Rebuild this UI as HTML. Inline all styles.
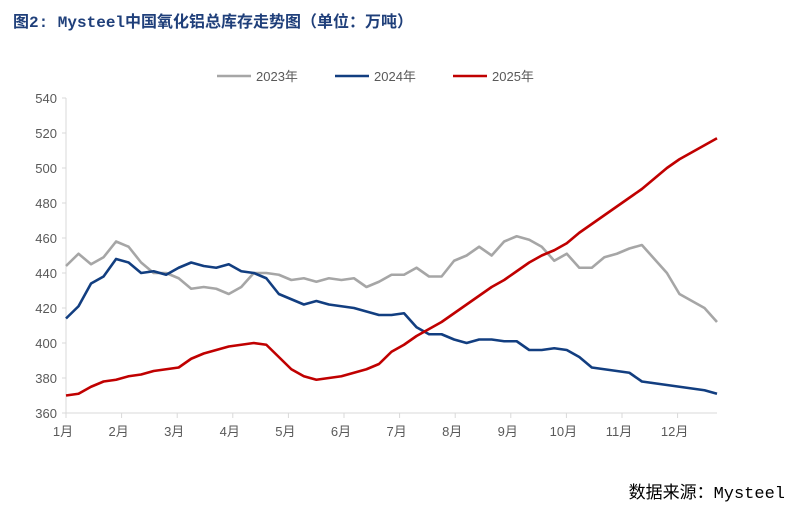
<!DOCTYPE html>
<html><head><meta charset="utf-8"><style>
body{margin:0;background:#fff;width:793px;height:511px;overflow:hidden;font-family:"Liberation Sans","Noto Sans CJK SC",sans-serif}
#title{position:absolute;left:13px;top:8px;font-size:16px;font-weight:bold;color:#1f3f7a;font-family:"Liberation Mono","Noto Sans CJK SC",monospace}
#src{position:absolute;right:8px;top:478px;font-size:17px;color:#000;font-family:"Liberation Mono","Noto Sans CJK SC",monospace}
svg{position:absolute;left:0;top:0}
</style></head><body>
<div id="title">图2: Mysteel中国氧化铝总库存走势图（单位：万吨）</div>
<div id="src">数据来源：Mysteel</div>
<svg id="chart" width="793" height="511"></svg>
<script>
const months=["1月","2月","3月","4月","5月","6月","7月","8月","9月","10月","11月","12月"];
const yTicks=[360,380,400,420,440,460,480,500,520,540];
const seriesNames=["2023年","2024年","2025年"];
const s2023=[444,451,445,449,458,455,446,440,440,437,431,432,431,428,432,440,440,439,436,437,435,437,436,437,432,435,439,439,443,438,438,447,450,455,450,458,461,459,455,447,451,443,443,449,451,454,456,448,440,428,424,420,412];
const s2024=[414,421,434,438,448,446,440,441,439,443,446,444,443,445,441,440,437,428,425,422,424,422,421,420,418,416,416,417,409,405,405,402,400,402,402,401,401,396,396,397,396,392,386,385,384,383,378,377,376,375,374,373,371];
const s2025=[370,371,375,378,379,381,382,384,385,386,391,394,396,398,399,400,399,392,385,381,379,380,381,383,385,388,395,399,404,408,412,417,422,427,432,436,441,446,450,453,457,463,468,473,478,483,488,494,500,505,509,513,517];
const colors=["#a6a6a6","#123e80","#c00000"];
const svg=document.getElementById('chart');const NS="http://www.w3.org/2000/svg";
const X0=66,X1=717,Y0=413,Y1=98;
const y=v=>Y0-(v-360)/180*(Y0-Y1);
const x=(i,n)=>X0+i*(X1-X0)/(n-1);
function mk(t,a){const e=document.createElementNS(NS,t);for(const k in a)e.setAttribute(k,a[k]);svg.appendChild(e);return e;}
let ax=mk('line',{x1:X0,x2:X0,y1:Y1,y2:Y0,stroke:'#d9d9d9'});


let bx=mk('line',{x1:X0,x2:X1,y1:Y0,y2:Y0,stroke:'#d9d9d9'});


yTicks.forEach(v=>{
 let t=mk('text',{x:X0-9,y:y(v)+5,'text-anchor':'end','font-size':13,fill:'#595959'});t.textContent=v;
 
 
 mk('line',{x1:X0-4,x2:X0,y1:y(v),y2:y(v),stroke:'#d9d9d9'});
});
months.forEach((m,i)=>{
 const px=X0+i*55.6;
 mk('line',{x1:px,x2:px,y1:Y0,y2:Y0+5,stroke:'#d9d9d9'});
 let t=mk('text',{x:px-3,y:Y0+23,'text-anchor':'middle','font-size':13,fill:'#595959'});t.textContent=m;
 
 
});
[s2023,s2024,s2025].forEach((s,k)=>{
 let p=mk('polyline',{points:s.map((v,i)=>x(i,s.length)+','+y(v)).join(' '),fill:'none',stroke:colors[k],'stroke-width':2.6,'stroke-linejoin':'round'});
 
 
 const lx=217+k*118;
 let l=mk('line',{x1:lx,x2:lx+34,y1:76,y2:76,stroke:colors[k],'stroke-width':2.6});
 
 
 let t=mk('text',{x:lx+39,y:81,'font-size':13,fill:'#595959'});t.textContent=seriesNames[k];
 
 
});
</script>
</body></html>
